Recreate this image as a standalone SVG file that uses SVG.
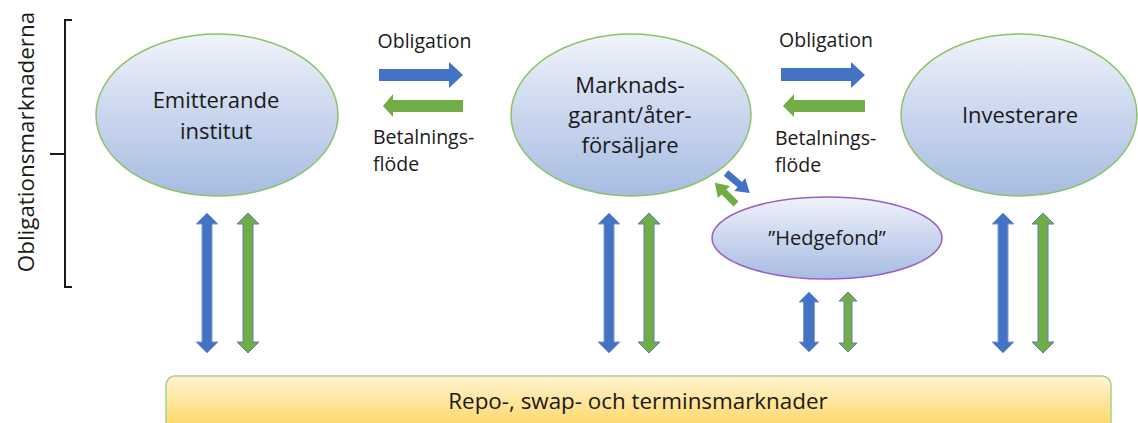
<svg xmlns="http://www.w3.org/2000/svg" width="1138" height="423" viewBox="0 0 1138 423">
<defs>
<linearGradient id="gBlue" x1="0" y1="0" x2="0" y2="1">
<stop offset="0" stop-color="#F0F3FA"/>
<stop offset="0.5" stop-color="#CAD6EE"/>
<stop offset="1" stop-color="#A7BCE2"/>
</linearGradient>
<linearGradient id="gYellow" gradientUnits="userSpaceOnUse" x1="0" y1="376" x2="0" y2="423">
<stop offset="0" stop-color="#FFF3D2"/>
<stop offset="1" stop-color="#FFDA70"/>
</linearGradient>
<path id="dblV" d="M0,0 L11,11 L5,11 L5,129 L11,129 L0,140 L-11,129 L-5,129 L-5,11 L-11,11 Z"/>
</defs>
<style>
.t{font-family:"Open Sans","Liberation Sans",sans-serif;fill:#1A1A1A;}
.node{font-size:22px;text-anchor:middle;}
.lbl{font-size:19.5px;}
.ell{fill:url(#gBlue);stroke:#8DC26A;stroke-width:1.5;}
.blue{fill:#4472C4;}
.green{fill:#70AD47;}
.vb{fill:#4472C4;stroke:#7E9DD4;stroke-width:1;}
.vg{fill:#70AD47;stroke:#5A7FB8;stroke-width:1;}
</style>

<g id="bracket" fill="none" stroke="#1A1A1A" stroke-width="2">
<path d="M72,20 L65,20 L65,287 L72,287"/>
<path d="M50,154 L65,154"/>
</g>
<text class="t" font-size="22.4" text-anchor="middle" transform="translate(34,142) rotate(-90)">Obligationsmarknaderna</text>

<g id="emitterande">
<ellipse class="ell" cx="217" cy="115" rx="121" ry="81"/>
<text class="t node" x="216" y="108">Emitterande</text>
<text class="t node" x="216" y="139">institut</text>
</g>

<g id="marknadsgarant">
<ellipse class="ell" cx="631" cy="115" rx="120" ry="81"/>
<text class="t node" x="630" y="93">Marknads-</text>
<text class="t node" x="630" y="123">garant/åter-</text>
<text class="t node" x="630" y="153">försäljare</text>
</g>

<g id="investerare">
<ellipse class="ell" cx="1019" cy="115" rx="118" ry="81"/>
<text class="t node" x="1020" y="123">Investerare</text>
</g>

<g id="hedgefond">
<ellipse cx="827" cy="238" rx="115" ry="41" fill="url(#gBlue)" stroke="#9A5FC2" stroke-width="1.5"/>
<text class="t" font-size="20" text-anchor="middle" x="827" y="245">”Hedgefond”</text>
</g>

<g id="marknader">
<rect x="166" y="376" width="945" height="70" rx="9" fill="url(#gYellow)" stroke="#A9D18E" stroke-width="1.5"/>
<text class="t" font-size="22.4" text-anchor="middle" x="638" y="409">Repo-, swap- och terminsmarknader</text>
</g>

<g id="connectors">
<text class="t lbl" x="424.5" y="48" text-anchor="middle">Obligation</text>
<path class="blue" d="M379,69 L449,69 L449,62 L463,75 L449,88 L449,81 L379,81 Z"/>
<path class="green" d="M463,100 L393,100 L393,94 L383,106 L393,117 L393,112 L463,112 Z"/>
<text class="t lbl" x="373" y="144">Betalnings-</text>
<text class="t lbl" x="373" y="171">flöde</text>

<text class="t lbl" x="826" y="47" text-anchor="middle">Obligation</text>
<path class="blue" d="M781,68 L851,68 L851,62 L865,75 L851,88 L851,81 L781,81 Z"/>
<path class="green" d="M865,100 L794,100 L794,94 L783,106 L794,117 L794,112 L865,112 Z"/>
<text class="t lbl" x="775" y="145">Betalnings-</text>
<text class="t lbl" x="775" y="172">flöde</text>

<path class="blue" transform="translate(726,173) rotate(40)" d="M0,-3.5 L18,-3.5 L18,-8.5 L31,0 L18,8.5 L18,3.5 L0,3.5 Z"/>
<path class="green" transform="translate(736,204) rotate(225)" d="M0,-3.5 L17,-3.5 L17,-8.5 L30,0 L17,8.5 L17,3.5 L0,3.5 Z"/>

<use href="#dblV" class="vb" x="207" y="213"/>
<use href="#dblV" class="vg" x="248" y="213"/>
<use href="#dblV" class="vb" x="609" y="213"/>
<use href="#dblV" class="vg" x="649" y="213"/>
<use href="#dblV" class="vb" x="1003" y="213"/>
<use href="#dblV" class="vg" x="1043" y="213"/>

<path class="vb" d="M809,292 L819,302 L814.5,302 L814.5,342 L819,342 L809,352 L799,342 L803.5,342 L803.5,302 L799,302 Z"/>
<path class="vg" d="M848,292 L857,301 L852,301 L852,343 L857,343 L848,352 L839,343 L844,343 L844,301 L839,301 Z"/>
</g>
</svg>
